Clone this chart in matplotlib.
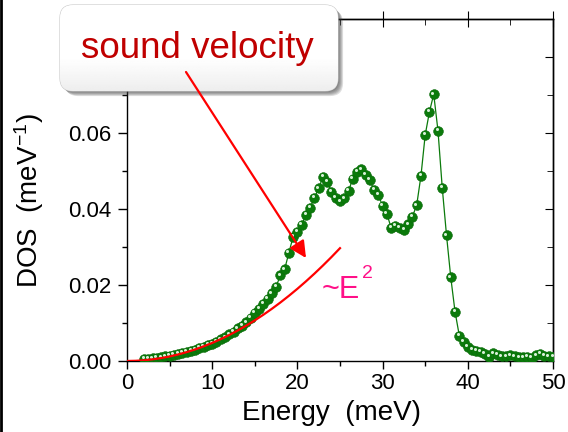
import numpy as np
import matplotlib
matplotlib.use("Agg")
import matplotlib.pyplot as plt
from matplotlib.patches import FancyBboxPatch, FancyArrowPatch
from matplotlib.lines import Line2D
from matplotlib.ticker import MultipleLocator
import matplotlib.transforms as mtransforms

plt.rcParams['font.family'] = ['Liberation Sans', 'DejaVu Sans']
plt.rcParams['mathtext.fontset'] = 'custom'
plt.rcParams['mathtext.rm'] = 'Liberation Sans'
plt.rcParams['mathtext.it'] = 'Liberation Sans'

# Daten: Energie (meV) und DOS (1/meV)
energy = np.arange(2.0, 50.01, 0.5)
dos = [0.0005, 0.0006, 0.0007, 0.0008, 0.0010, 0.0012, 0.0014, 0.0016, 0.0018, 0.0021,
       0.0024, 0.0027, 0.0030, 0.0034, 0.0038, 0.0042, 0.0046, 0.0051, 0.0057, 0.0062,
       0.0070, 0.0077, 0.0086, 0.0093, 0.0102, 0.0113, 0.0126, 0.0138, 0.0150, 0.0164,
       0.0178, 0.0196, 0.0225, 0.0241, 0.0285, 0.0327, 0.0340, 0.0358, 0.0384, 0.0403,
       0.0430, 0.0454, 0.0485, 0.0472, 0.0445, 0.0430, 0.0420, 0.0428, 0.0447, 0.0480,
       0.0498, 0.0504, 0.0490, 0.0476, 0.0450, 0.0437, 0.0408, 0.0388, 0.0350, 0.0356,
       0.0350, 0.0345, 0.0360, 0.0380, 0.0410, 0.0487, 0.0595, 0.0656, 0.0702, 0.0606,
       0.0456, 0.0331, 0.0220, 0.0130, 0.0067, 0.0051, 0.0038, 0.0029, 0.0026, 0.0024,
       0.0018, 0.0011, 0.0020, 0.0017, 0.0012, 0.0012, 0.0015, 0.0012, 0.0010, 0.0010,
       0.0011, 0.0009, 0.0015, 0.0018, 0.0014, 0.0012, 0.0011]

# ~E^2 Kurve
fit_energy = list(range(0, 26))
fit_dos = [0.0, 0.00005, 0.00019, 0.00043, 0.00076, 0.00119, 0.00171, 0.00233, 0.00304,
           0.00385, 0.00475, 0.00575, 0.00684, 0.00803, 0.00931, 0.01069, 0.01216,
           0.01373, 0.01539, 0.01715, 0.0190, 0.02095, 0.02299, 0.02513, 0.02736, 0.02969]

fig = plt.figure(figsize=(5.68, 4.32), dpi=100)
ax = fig.add_axes([0.2236, 0.1644, 0.75, 0.7916])

green = '#0b7a0b'
ax.plot(energy, dos, '-', color=green, lw=0.9, zorder=2)
ax.plot(energy, dos, 'o', color=green, ms=7, mec='#0a6a0a', mew=0.4, zorder=3)
# Glanzpunkte auf den Kugeln
hl = mtransforms.offset_copy(ax.transData, fig=fig, x=-1.0, y=1.2, units='points')
ax.plot(energy, dos, 'o', color='#d8f0d8', ms=2.2, mew=0, transform=hl, zorder=4)

ax.plot(fit_energy, fit_dos, '-', color='#ff0000', lw=1.6, zorder=5)

ax.set_xlim(0, 50)
ax.set_ylim(0, 0.09)
ax.xaxis.set_major_locator(MultipleLocator(10))
ax.xaxis.set_minor_locator(MultipleLocator(5))
ax.set_yticks([0, 0.02, 0.04, 0.06])
ax.set_yticklabels(['0.00', '0.02', '0.04', '0.06'])
ax.yaxis.set_minor_locator(MultipleLocator(0.01))
ax.tick_params(which='both', direction='out', labelsize=16, width=1, colors='black')
ax.tick_params(axis='y', which='major', length=6.5, pad=5)
ax.tick_params(axis='x', which='major', length=6, pad=3)
ax.tick_params(which='minor', length=3.6)
ax.tick_params(axis='both', which='both', top=False, right=False)

# Ticks oben und rechts
secx = ax.secondary_xaxis('top')
secx.xaxis.set_major_locator(MultipleLocator(10))
secx.xaxis.set_minor_locator(MultipleLocator(5))
secx.tick_params(which='major', direction='inout', length=12, labeltop=False)
secx.tick_params(which='minor', direction='in', length=4)
secx.set_xticklabels([])
secy = ax.secondary_yaxis('right')
secy.yaxis.set_major_locator(MultipleLocator(0.02))
secy.yaxis.set_minor_locator(MultipleLocator(0.01))
secy.tick_params(which='major', direction='in', length=6)
secy.tick_params(which='minor', direction='in', length=4)
secy.set_yticklabels([])
for a in (ax, secx, secy):
    for s in a.spines.values():
        s.set_linewidth(1.0)

ax.set_xlabel('Energy  (meV)', fontsize=20)
ax.xaxis.set_label_coords(0.481, -0.115)
ax.set_ylabel('DOS  (meV$^{-1}$)', fontsize=20)
ax.yaxis.set_label_coords(-0.19, 0.47)

e2_color = '#ff1088'
ax.text(22.9, 0.0166, '~E', color=e2_color, fontsize=22, zorder=6)
ax.text(27.6, 0.0218, '2', color=e2_color, fontsize=14, zorder=6)

# Kasten "sound velocity" mit Schatten (Koordinaten in Zoll)
bx, by, bw, bh = 0.60, 3.41, 2.78, 0.86
rs = 'round,pad=0.0,rounding_size=0.13'
for k in range(1, 7):
    off = 0.0085 * k
    sh = FancyBboxPatch((bx + off, by - off), bw, bh, boxstyle=rs,
                        transform=fig.dpi_scale_trans, fc='#404040', ec='none',
                        alpha=0.16, zorder=10)
    fig.add_artist(sh)
box = FancyBboxPatch((bx, by), bw, bh, boxstyle=rs, transform=fig.dpi_scale_trans,
                     fc='white', ec='#c8c8c8', lw=0.8, zorder=11)
fig.add_artist(box)
# leichter Verlauf am unteren Rand
grad_ax = fig.add_axes([bx / 5.68, by / 4.32, bw / 5.68, bh / 4.32], zorder=11.5)
grad_ax.set_axis_off()
grad = np.linspace(0.75, 1.0, 40) ** 0.25
grad = np.clip(np.concatenate([grad, np.ones(60)]), 0, 1)
im = grad_ax.imshow(np.tile(grad[::-1, None], (1, 2)), cmap='gray', vmin=0, vmax=1,
                    aspect='auto', extent=[0, 1, 0, 1], origin='upper')
clip = FancyBboxPatch((bx, by), bw, bh, boxstyle=rs, transform=fig.dpi_scale_trans,
                      fc='none', ec='none')
im.set_clip_path(clip)
fig.text(0.3477, 1 - 58.3 / 432, 'sound velocity', color='#c00000', fontsize=26.5,
         ha='center', va='baseline', zorder=12)

arrow = FancyArrowPatch((186 / 568, 1 - 72 / 432), (306 / 568, 1 - 258 / 432),
                        transform=fig.transFigure, color='#ff0000', lw=1.6,
                        arrowstyle='-|>,head_length=10,head_width=5',
                        shrinkA=0, shrinkB=0, zorder=13)
fig.add_artist(arrow)

fig.add_artist(Line2D([0.002, 0.002], [0, 1], transform=fig.transFigure,
                      color='black', lw=2))

fig.savefig('out.png', dpi=100)
